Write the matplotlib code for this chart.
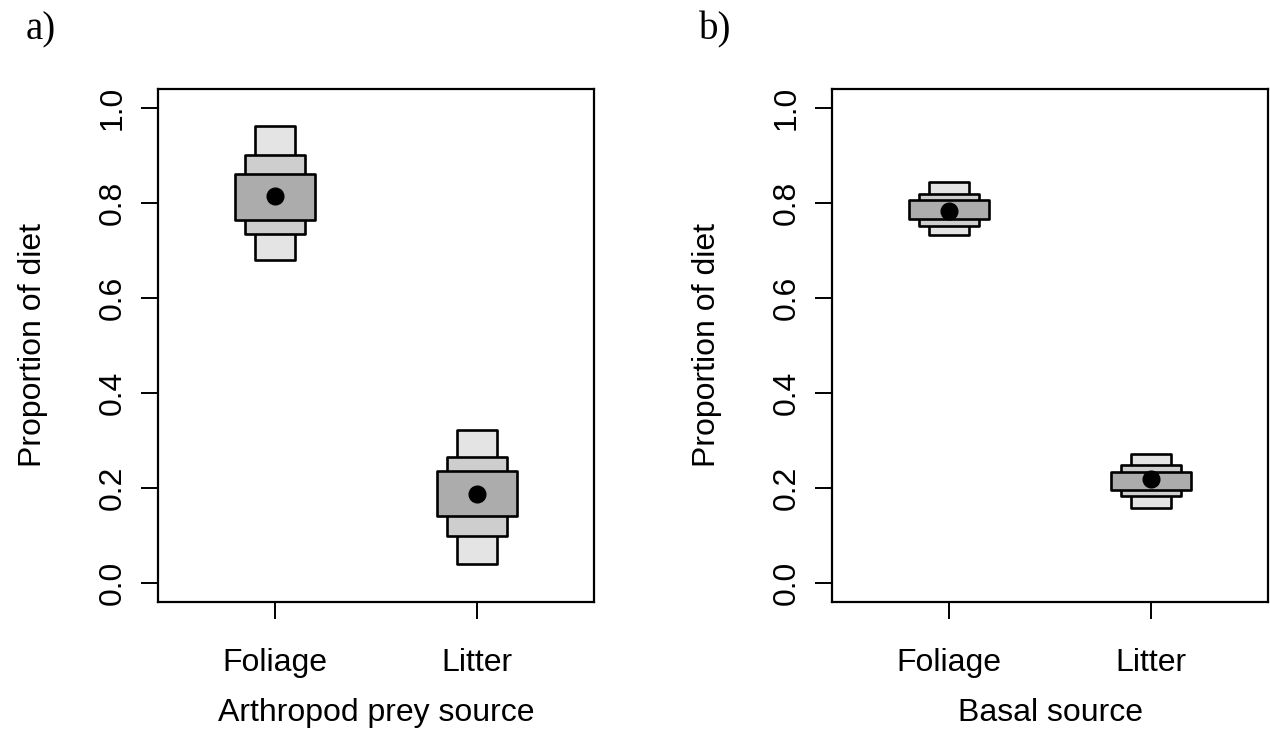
import numpy as np
import matplotlib
matplotlib.use("Agg")
import matplotlib.pyplot as plt

# ---------------- data ----------------
sources = ["Foliage", "Litter"]
xpos = [1, 2]

# panel a : Arthropod prey source
a_mean = [0.814, 0.188]
a_outer_lo = [0.680, 0.040]
a_outer_hi = [0.962, 0.322]
a_mid_lo = [0.735, 0.100]
a_mid_hi = [0.902, 0.266]
a_in_lo = [0.765, 0.141]
a_in_hi = [0.862, 0.236]

# panel b : Basal source
b_mean = [0.784, 0.220]
b_outer_lo = [0.733, 0.158]
b_outer_hi = [0.845, 0.271]
b_mid_lo = [0.752, 0.183]
b_mid_hi = [0.818, 0.249]
b_in_lo = [0.767, 0.196]
b_in_hi = [0.806, 0.234]

yticks = [0.0, 0.2, 0.4, 0.6, 0.8, 1.0]

# box half widths / fills (outer -> inner)
half_w = [0.10, 0.15, 0.20]
fills = ["#e4e4e4", "#cecece", "#acacac"]

plt.rcParams['font.family'] = ['Liberation Sans', 'DejaVu Sans']

W, H = 1270, 753
fig = plt.figure(figsize=(W / 100, H / 100), dpi=100)


def px_axes(left, top, right, bottom):
    return fig.add_axes([left / W, 1 - bottom / H, (right - left) / W, (bottom - top) / H])


def draw_panel(ax, mean, bands, xlabel, tag, left, right):
    for (lo, hi), hw, col in zip(bands, half_w, fills):
        lo = np.array(lo)
        hi = np.array(hi)
        ax.bar(xpos, hi - lo, bottom=lo, width=2 * hw, color=col,
               edgecolor="black", linewidth=1.9, joinstyle="round", zorder=2)
    ax.plot(xpos, mean, "o", color="black", markersize=12, zorder=3)

    ax.set_xlim(0.42, 2.58)
    ax.set_ylim(-0.04, 1.04)
    ax.set_xticks(xpos)
    ax.set_xticklabels(sources)
    ax.set_yticks(yticks)
    ax.set_yticklabels(["%.1f" % v for v in yticks])
    for s in ax.spines.values():
        s.set_linewidth(1.6)
    ax.tick_params(axis="both", length=12, width=1.4, labelsize=23)
    ax.tick_params(axis="x", pad=21)
    ax.tick_params(axis="y", pad=10, labelrotation=90)
    for lab in ax.get_yticklabels():
        lab.set_va("center")

    cx = (left + right) / 2
    fig.text(cx / W, 1 - 713 / H, xlabel, ha="center", va="center", fontsize=23)
    fig.text((left - 125) / W, 1 - 345 / H, "Proportion of diet", rotation=90,
             ha="center", va="center", fontsize=23)
    fig.text((left - 117) / W, 1 - 30 / H, tag, ha="center", va="center",
             fontsize=28, family=["Liberation Serif", "DejaVu Serif"])


ax1 = px_axes(158, 89, 594, 602)
draw_panel(ax1, a_mean,
           [(a_outer_lo, a_outer_hi), (a_mid_lo, a_mid_hi), (a_in_lo, a_in_hi)],
           "Arthropod prey source", "a)", 158, 594)

ax2 = px_axes(832, 89, 1268, 602)
draw_panel(ax2, b_mean,
           [(b_outer_lo, b_outer_hi), (b_mid_lo, b_mid_hi), (b_in_lo, b_in_hi)],
           "Basal source", "b)", 832, 1268)

fig.savefig("out.png", dpi=100)
